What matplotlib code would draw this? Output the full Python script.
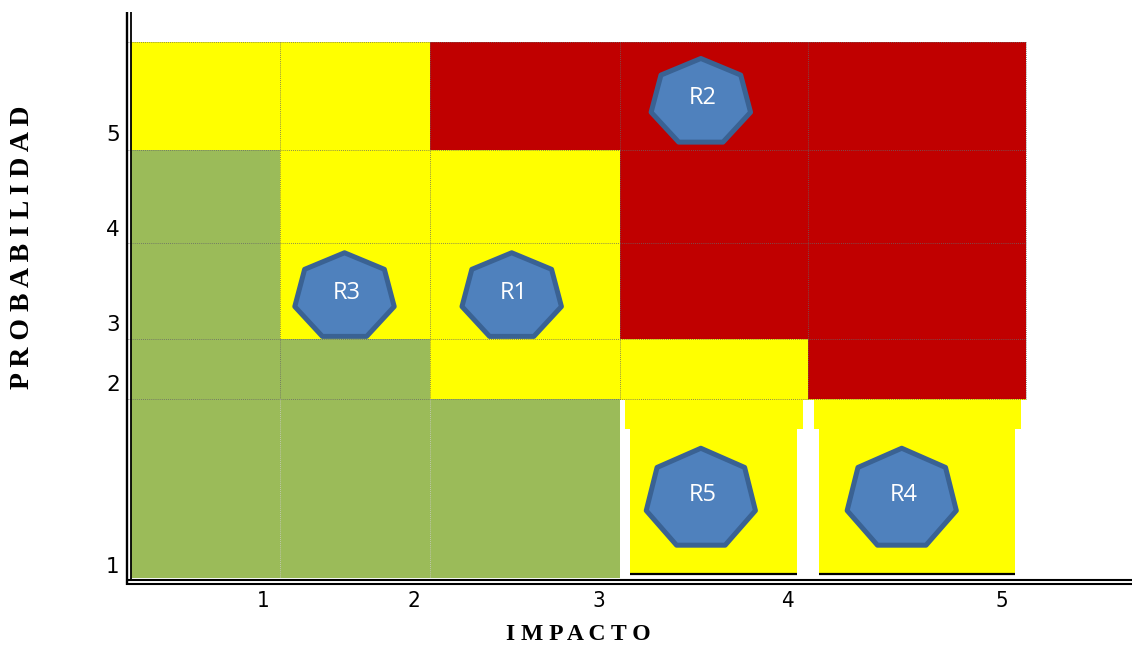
import matplotlib
matplotlib.use('Agg')
import matplotlib.pyplot as plt
from matplotlib.patches import Rectangle, Polygon
import numpy as np

# Risk matrix data
impact_levels = [1, 2, 3, 4, 5]
probability_levels = [5, 4, 3, 2, 1]          # top row first
# zone per cell: G = low, Y = medium, R = high (rows follow probability_levels)
zones = [
    ['Y', 'Y', 'R', 'R', 'R'],
    ['G', 'Y', 'Y', 'R', 'R'],
    ['G', 'Y', 'Y', 'R', 'R'],
    ['G', 'G', 'Y', 'Y', 'R'],
    ['G', 'G', 'G', 'Y', 'Y'],
]
risk_labels = ['R1', 'R2', 'R3', 'R4', 'R5']
risk_impact = [3, 4, 2, 5, 4]
risk_probability = [3, 5, 3, 1, 1]

zone_colors = {'G': '#9BBB59', 'Y': '#FFFF00', 'R': '#C00000'}

# page layout (pixels, y grows downward)
col_edges = [131, 280, 430, 620, 808, 1026]
row_edges = [42, 150, 243, 339, 399, 578]
tick_frac_x = 0.89
tick_frac_y = [0.86, 0.86, 0.85, 0.77, 0.94]

fig = plt.figure(figsize=(11.32, 6.5), dpi=100)
ax = fig.add_axes([0, 0, 1, 1])
ax.set_xlim(0, 1132)
ax.set_ylim(650, 0)
ax.axis('off')

# colored cells
for r, row in enumerate(zones):
    for c, z in enumerate(row):
        x0, x1 = col_edges[c], col_edges[c + 1]
        y0, y1 = row_edges[r], row_edges[r + 1]
        ax.add_patch(Rectangle((x0, y0), x1 - x0, y1 - y0,
                               facecolor=zone_colors[z], edgecolor='none'))

# dotted cell borders
for y in row_edges[:-1]:
    ax.plot([128, col_edges[-1]], [y, y], color='#666666', lw=0.6,
            ls=(0, (1, 1.5)), zorder=2)
for x in col_edges[1:]:
    ax.plot([x, x], [row_edges[0], row_edges[-2]], color='#666666', lw=0.6,
            ls=(0, (1, 1.5)), zorder=2)
for x in col_edges[1:3]:
    ax.plot([x, x], [row_edges[-2], row_edges[-1]], color='#cccccc', lw=0.6,
            ls=(0, (1, 1.5)), zorder=2)

# bottom row cells under impact 4 and 5 are cut by white gaps
ytop, ybot = row_edges[-2], row_edges[-1]
ystep = ytop + 30
white_blocks = [
    (620, ytop + 1, 5, ystep - ytop), (620, ystep, 10, ybot - ystep + 1),
    (803, ytop + 1, 11, ystep - ytop), (797, ystep, 22, ybot - ystep + 1),
    (1021, ytop + 1, 10, ystep - ytop), (1015, ystep, 16, ybot - ystep + 1),
]
for x0, y0, w, h in white_blocks:
    ax.add_patch(Rectangle((x0, y0), w, h, facecolor='white', edgecolor='none', zorder=3))
for x0, x1 in [(630, 797), (819, 1015)]:
    ax.add_patch(Rectangle((x0, 574), x1 - x0, 5, facecolor='white', edgecolor='none', zorder=3))
    ax.plot([x0, x1], [573.5, 573.5], color='black', lw=1.6, zorder=4,
            solid_capstyle='butt')

# double axis lines
ax.plot([127, 127], [12, 585], color='black', lw=1.7, zorder=5, solid_capstyle='butt')
ax.plot([131.2, 131.2], [12, 580], color='black', lw=1.3, zorder=5, solid_capstyle='butt')
ax.plot([126, 1132], [580, 580], color='black', lw=1.5, zorder=5, solid_capstyle='butt')
ax.plot([126, 1132], [584.2, 584.2], color='black', lw=1.5, zorder=5, solid_capstyle='butt')

# tick labels
for c, lvl in enumerate(impact_levels):
    x = col_edges[c] + tick_frac_x * (col_edges[c + 1] - col_edges[c])
    ax.text(x, 601, str(lvl), ha='center', va='center', fontsize=16,
            family='DejaVu Sans', fontstretch='condensed')
for r, lvl in enumerate(probability_levels):
    y = row_edges[r] + tick_frac_y[r] * (row_edges[r + 1] - row_edges[r])
    ax.text(113, y, str(lvl), ha='center', va='center', fontsize=15.5,
            family='DejaVu Sans')

ax.text(23, 247, ' '.join('PROBABILIDAD'), rotation=90, ha='center', va='center',
        fontsize=20, fontweight='bold', family='Liberation Serif')
ax.text(578, 634, ' '.join('IMPACTO'), ha='center', va='center',
        fontsize=17, fontweight='bold', family='Liberation Serif')

# risk markers (heptagons)
ang = np.pi / 2 + np.arange(7) * 2 * np.pi / 7
for lab, imp, prob in zip(risk_labels, risk_impact, risk_probability):
    c = impact_levels.index(imp)
    r = probability_levels.index(prob)
    cx = col_edges[c] + 0.43 * (col_edges[c + 1] - col_edges[c])
    cy = row_edges[r] + 0.56 * (row_edges[r + 1] - row_edges[r])
    rx, ry = (56, 51) if prob == 1 else (51, 44)
    pts = np.column_stack([cx + rx * np.cos(ang), cy - ry * np.sin(ang)])
    ax.add_patch(Polygon(pts, closed=True, facecolor='#4F81BD', edgecolor='#3A6293',
                         lw=3.6, joinstyle='round', zorder=6))
    ax.text(cx + 2, cy - 4, lab, ha='center', va='center', color='white',
            fontsize=17, family='Open Sans', zorder=7)

fig.savefig('out.png', dpi=100)
